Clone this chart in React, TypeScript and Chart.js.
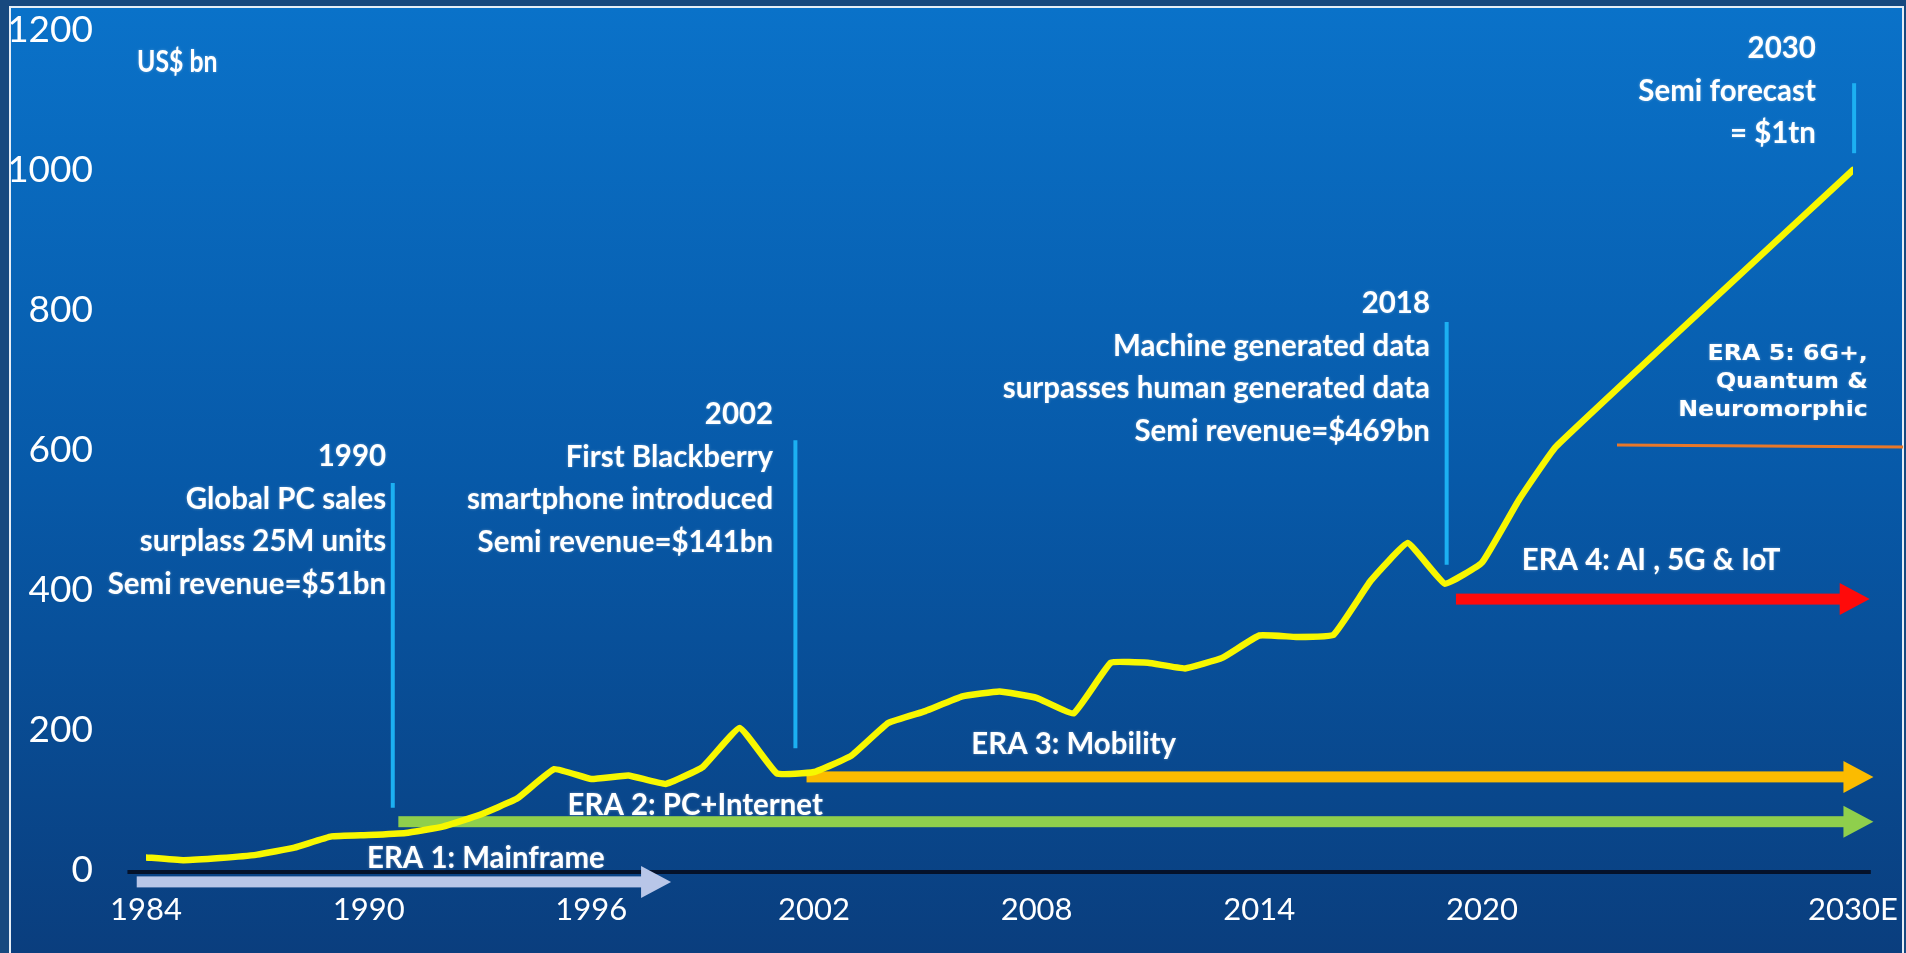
import React, { useEffect, useRef } from "react";
import { Chart, registerables } from "chart.js";

Chart.register(...registerables);

// ---------- data ----------
const years = [
  1984, 1985, 1986, 1987, 1988, 1989, 1990, 1991, 1992, 1993, 1994, 1995, 1996,
  1997, 1998, 1999, 2000, 2001, 2002, 2003, 2004, 2005, 2006, 2007, 2008, 2009,
  2010, 2011, 2012, 2013, 2014, 2015, 2016, 2017, 2018, 2019, 2020, 2021, 2022,
  2030,
];
const revenue = [
  18, 14, 17, 22, 32, 48, 50, 53, 62, 79, 102, 144, 130, 135, 123, 147, 203, 138,
  140, 163, 210, 227, 248, 255, 246, 224, 296, 296, 288, 303, 335, 333, 336, 413,
  467, 409, 439, 529, 605, 1000,
];

const xTickValues = [1984, 1990, 1996, 2002, 2008, 2014, 2020, 2030];
const xTickLabels = ["1984", "1990", "1996", "2002", "2008", "2014", "2020", "2030E"];
const yMin = 0;
const yMax = 1200;
const yStep = 200;

const unitLabel = "US$ bn";
const unitYear = 1983.76;
const unitValue = 1154;

// eras (arrows)
const eraNames = ["ERA 1: Mainframe", "ERA 2: PC+Internet", "ERA 3: Mobility", "ERA 4: AI , 5G & IoT"];
const eraStartYear = [1983.75, 1990.8, 2001.8, 2019.3];
const eraEndYear = [1998.15, 2030.55, 2030.55, 2030.45];
const eraLevel = [-17, 69, 133, 387];
const eraLabelYear = [1993.16, 1998.8, 2009.0, 2024.56];
const eraLabelLevel = [17, 93, 180, 443];
const eraColors = ["#b8c6e8", "#8fcf4c", "#fbbb00", "#ff0a0a"];

// era 5 (line + multi-line label)
const era5Lines = ["ERA 5: 6G+,", "Quantum &", "Neuromorphic"];
const era5StartYear = 2023.64;
const era5EndYear = 2031.35;
const era5Level = 607;
const era5LabelYear = 2030.4;
const era5LabelLevel = 736;

// milestone notes
const noteLines = [
  ["1990", "Global PC sales", "surplass 25M units", "Semi revenue=$51bn"],
  ["2002", "First Blackberry", "smartphone introduced", "Semi revenue=$141bn"],
  ["2018", "Machine generated data", "surpasses human generated data", "Semi revenue=$469bn"],
  ["2030", "Semi forecast", "= $1tn"],
];
const noteLineYear = [1990.65, 2001.5, 2019.05, 2030.03];
const noteLineTop = [553, 614, 783, 1124];
const noteLineBottom = [89, 174, 436, 1024];
const noteTextYear = [1990.47, 2000.9, 2018.6, 2029.0];
const noteTextLevel = [591, 651, 810, 1174];

// ---------- styling ----------
const SANS = "Lato, 'Open Sans', sans-serif";

function drawText(
  ctx: CanvasRenderingContext2D,
  text: string,
  x: number,
  y: number,
  font: string,
  align: CanvasTextAlign,
  sx = 1
) {
  ctx.save();
  ctx.font = font;
  ctx.textAlign = align;
  ctx.textBaseline = "middle";
  ctx.fillStyle = "#ffffff";
  ctx.shadowColor = "rgba(255,255,255,0.35)";
  ctx.shadowBlur = 3;
  ctx.translate(x, y);
  ctx.scale(sx, 1);
  ctx.fillText(text, 0, 0);
  ctx.restore();
}

function drawArrow(
  ctx: CanvasRenderingContext2D,
  x0: number,
  x1: number,
  y: number,
  color: string
) {
  const shaft = 11;
  const headLen = 30;
  const headH = 32;
  ctx.save();
  ctx.fillStyle = color;
  ctx.fillRect(x0, y - shaft / 2, x1 - headLen - x0 + 1, shaft);
  ctx.beginPath();
  ctx.moveTo(x1 - headLen, y - headH / 2);
  ctx.lineTo(x1, y);
  ctx.lineTo(x1 - headLen, y + headH / 2);
  ctx.closePath();
  ctx.fill();
  ctx.restore();
}

const decorPlugin = {
  id: "decor",
  beforeDraw(chart: any) {
    const { ctx, width, height } = chart;
    ctx.save();
    ctx.fillStyle = "#17497f";
    ctx.fillRect(0, 0, width, height);
    const g = ctx.createLinearGradient(0, 8, 0, height);
    g.addColorStop(0, "#0a72c9");
    g.addColorStop(0.5, "#0759a8");
    g.addColorStop(1, "#0a3e7e");
    ctx.fillStyle = g;
    ctx.fillRect(10, 7, 1893, height - 7);
    ctx.strokeStyle = "#e6eef6";
    ctx.lineWidth = 2;
    ctx.beginPath();
    ctx.moveTo(10, height);
    ctx.lineTo(10, 7);
    ctx.lineTo(1903, 7);
    ctx.lineTo(1903, height);
    ctx.stroke();
    ctx.restore();
  },
  beforeDatasetsDraw(chart: any) {
    const { ctx } = chart;
    const xs = chart.scales.x;
    const ys = chart.scales.y;
    // baseline
    ctx.save();
    ctx.strokeStyle = "#05122a";
    ctx.lineWidth = 4;
    ctx.beginPath();
    ctx.moveTo(xs.getPixelForValue(1983.5), ys.getPixelForValue(-3));
    ctx.lineTo(xs.getPixelForValue(2030.48), ys.getPixelForValue(-3));
    ctx.stroke();
    ctx.restore();

    // milestone vertical lines
    ctx.save();
    ctx.strokeStyle = "#1cb0f2";
    ctx.lineWidth = 4;
    noteLineYear.forEach((yr, i) => {
      const x = xs.getPixelForValue(yr);
      ctx.beginPath();
      ctx.moveTo(x, ys.getPixelForValue(noteLineTop[i]));
      ctx.lineTo(x, ys.getPixelForValue(noteLineBottom[i]));
      ctx.stroke();
    });
    ctx.restore();

    // era arrows
    eraNames.forEach((_, i) => {
      drawArrow(
        ctx,
        xs.getPixelForValue(eraStartYear[i]),
        xs.getPixelForValue(eraEndYear[i]),
        ys.getPixelForValue(eraLevel[i]),
        eraColors[i]
      );
    });

    // era 5 line
    ctx.save();
    ctx.strokeStyle = "#e8782a";
    ctx.lineWidth = 3;
    ctx.beginPath();
    ctx.moveTo(xs.getPixelForValue(era5StartYear), ys.getPixelForValue(era5Level));
    ctx.lineTo(xs.getPixelForValue(era5EndYear), ys.getPixelForValue(era5Level) + 2);
    ctx.stroke();
    ctx.restore();
  },
  afterDatasetsDraw(chart: any) {
    const { ctx } = chart;
    const xs = chart.scales.x;
    const ys = chart.scales.y;
    const bold = `bold 31px ${SANS}`;

    drawText(ctx, unitLabel, xs.getPixelForValue(unitYear), ys.getPixelForValue(unitValue), `bold 31px ${SANS}`, "left", 0.8);

    eraNames.forEach((name, i) => {
      drawText(
        ctx,
        name,
        xs.getPixelForValue(eraLabelYear[i]),
        ys.getPixelForValue(eraLabelLevel[i]),
        `bold 30px ${SANS}`,
        "center",
        0.98
      );
    });

    noteLines.forEach((lines, i) => {
      const x = xs.getPixelForValue(noteTextYear[i]);
      const y0 = ys.getPixelForValue(noteTextLevel[i]);
      lines.forEach((t, j) => {
        drawText(ctx, t, x, y0 + j * 42.5, bold, "right", 0.95);
      });
    });

    const ex = xs.getPixelForValue(era5LabelYear);
    const ey = ys.getPixelForValue(era5LabelLevel);
    era5Lines.forEach((t, j) => {
      drawText(ctx, t, ex, ey + j * 28, "bold 21px 'DejaVu Sans', sans-serif", "right", 1.13);
    });
  },
};

export default function App() {
  const ref = useRef<HTMLCanvasElement>(null);
  useEffect(() => {
    document.body.style.margin = "0";
    const canvas = ref.current!;
    const chart = new Chart(canvas, {
      type: "line",
      data: {
        datasets: [
          {
            label: "Semiconductor revenue",
            data: years.map((yr, i) => ({ x: yr, y: revenue[i] })),
            borderColor: "#f7f700",
            borderWidth: 6.5,
            pointRadius: 0,
            tension: 0.1,
            borderJoinStyle: "round",
            borderCapStyle: "round",
          },
        ],
      },
      options: {
        animation: false,
        responsive: false,
        devicePixelRatio: 1,
        layout: { padding: { left: 0, top: 30, right: 53, bottom: 0 } },
        plugins: { legend: { display: false }, tooltip: { enabled: false } },
        scales: {
          x: {
            type: "linear",
            min: 1984,
            max: 2030,
            afterBuildTicks: (s: any) => {
              s.ticks = xTickValues.map((v) => ({ value: v }));
            },
            afterFit: (s: any) => {
              s.height = 83;
            },
            grid: { display: false, drawTicks: true, tickLength: 19 },
            border: { display: false },
            ticks: {
              autoSkip: false,
              maxRotation: 0,
              color: "#ffffff",
              padding: 2,
              font: { family: SANS, size: 31 },
              callback: (v: any) => {
                const idx = xTickValues.indexOf(Number(v));
                return idx >= 0 ? xTickLabels[idx] : "";
              },
            },
          },
          y: {
            min: yMin,
            max: yMax,
            afterFit: (s: any) => {
              s.width = 146;
            },
            grid: { display: false, drawTicks: true, tickLength: 50 },
            border: { display: false },
            ticks: {
              stepSize: yStep,
              color: "#ffffff",
              padding: 3,
              font: { family: SANS, size: 37 },
              callback: (v: any) => String(v),
            },
          },
        },
      },
      plugins: [decorPlugin],
    });
    return () => chart.destroy();
  }, []);
  return (
    <div style={{ position: "fixed", left: 0, top: 0, width: 1906, height: 953 }}>
      <canvas ref={ref} width={1906} height={953} style={{ width: 1906, height: 953, display: "block" }} />
    </div>
  );
}
